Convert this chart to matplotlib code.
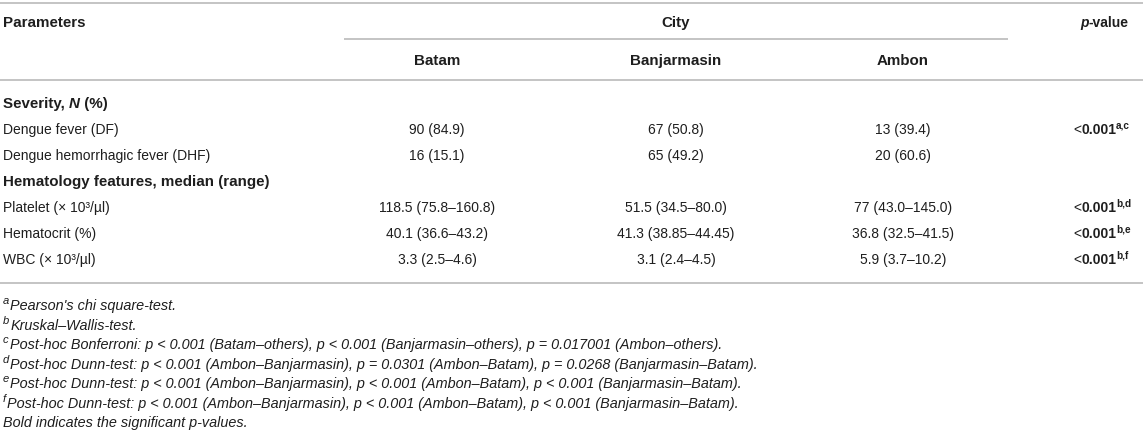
import matplotlib
matplotlib.use("Agg")
import matplotlib.pyplot as plt

plt.rcParams['font.family'] = ['Liberation Sans', 'DejaVu Sans']

# ---------------- data ----------------
cities = ["Batam", "Banjarmasin", "Ambon"]
group_header = "City"
param_header = "Parameters"

section1 = "Severity"
df_label = "Dengue fever (DF)"
dhf_label = "Dengue hemorrhagic fever (DHF)"
df_vals = ["90 (84.9)", "67 (50.8)", "13 (39.4)"]
dhf_vals = ["16 (15.1)", "65 (49.2)", "20 (60.6)"]

section2 = "Hematology features, median (range)"
platelet_label = "Platelet (× 10³/µl)"
hematocrit_label = "Hematocrit (%)"
wbc_label = "WBC (× 10³/µl)"
platelet_vals = ["118.5 (75.8–160.8)", "51.5 (34.5–80.0)", "77 (43.0–145.0)"]
hematocrit_vals = ["40.1 (36.6–43.2)", "41.3 (38.85–44.45)", "36.8 (32.5–41.5)"]
wbc_vals = ["3.3 (2.5–4.6)", "3.1 (2.4–4.5)", "5.9 (3.7–10.2)"]

p_df = ("0.001", "a,c")
p_platelet = ("0.001", "b,d")
p_hematocrit = ("0.001", "b,e")
p_wbc = ("0.001", "b,f")

footnotes = [
    ("a", "Pearson's chi square-test."),
    ("b", "Kruskal–Wallis-test."),
    ("c", "Post-hoc Bonferroni: p < 0.001 (Batam–others), p < 0.001 (Banjarmasin–others), p = 0.017001 (Ambon–others)."),
    ("d", "Post-hoc Dunn-test: p < 0.001 (Ambon–Banjarmasin), p = 0.0301 (Ambon–Batam), p = 0.0268 (Banjarmasin–Batam)."),
    ("e", "Post-hoc Dunn-test: p < 0.001 (Ambon–Banjarmasin), p < 0.001 (Ambon–Batam), p < 0.001 (Banjarmasin–Batam)."),
    ("f", "Post-hoc Dunn-test: p < 0.001 (Ambon–Banjarmasin), p < 0.001 (Ambon–Batam), p < 0.001 (Banjarmasin–Batam)."),
    ("", "Bold indicates the significant p-values."),
]

# ---------------- layout ----------------
W, H = 1143, 432
FS = 10.0
FB = 10.9
FN = 10.4
TXT = "#1e1e1e"
LINE = "#b4b4b4"

fig = plt.figure(figsize=(W / 100, H / 100), dpi=100)
ax = fig.add_axes([0, 0, 1, 1])
ax.set_xlim(0, W)
ax.set_ylim(H, 0)
ax.axis("off")
renderer = fig.canvas.get_renderer()


def runs(x, yc, parts, ha="left", size=FS, sup_scale=0.72, gap=0.0):
    """parts: list of (text, weight, style, sup)"""
    spx = size * 100 / 72
    base = yc + 0.36 * spx
    objs = []
    for txt, w, s, sup in parts:
        fs = size * sup_scale if sup else size
        dy = -0.40 * spx if sup else 0
        t = ax.text(x, base + dy, txt, fontsize=fs, fontweight=w, fontstyle=s,
                    va="baseline", ha="left", color=TXT)
        objs.append((t, sup))
    widths = [t.get_window_extent(renderer).width + (gap if sup else 0) for t, sup in objs]
    total = sum(widths)
    if ha == "center":
        cur = x - total / 2
    elif ha == "right":
        cur = x - total
    else:
        cur = x
    for (t, sup), wdt in zip(objs, widths):
        t.set_x(cur)
        cur += wdt


def hline(y, x0=0, x1=W):
    ax.plot([x0, x1], [y, y], color=LINE, lw=1.1, solid_capstyle="butt")


col_x = [437, 676, 903]
p_x = 1073
label_x = 3

# lines
hline(3)
hline(39, 344, 1008)
hline(80)
hline(283)

# headers
runs(label_x, 22, [(param_header, "bold", "normal", False)], size=FB)
runs(676, 22, [(group_header, "bold", "normal", False)], ha="center", size=FB)
runs(p_x + 7, 22, [("p", "bold", "italic", False), ("-value", "bold", "normal", False)], size=FS)
for cx, c in zip(col_x, cities):
    runs(cx, 60, [(c, "bold", "normal", False)], ha="center", size=FB)

# body
row_y = [103, 129, 155, 181, 207, 233, 259]
runs(label_x, row_y[0], [(section1 + ", ", "bold", "normal", False),
                         ("N", "bold", "italic", False),
                         (" (%)", "bold", "normal", False)], size=FB)
runs(label_x, row_y[3], [(section2, "bold", "normal", False)], size=FB)

body = [
    (row_y[1], df_label, df_vals, p_df),
    (row_y[2], dhf_label, dhf_vals, None),
    (row_y[4], platelet_label, platelet_vals, p_platelet),
    (row_y[5], hematocrit_label, hematocrit_vals, p_hematocrit),
    (row_y[6], wbc_label, wbc_vals, p_wbc),
]
for y, lab, vals, pv in body:
    runs(label_x, y, [(lab, "normal", "normal", False)])
    for cx, v in zip(col_x, vals):
        runs(cx, y, [(v, "normal", "normal", False)], ha="center")
    if pv is not None:
        runs(p_x, y, [("<", "normal", "normal", False),
                      (pv[0], "bold", "normal", False),
                      (pv[1], "bold", "normal", True)])

# footnotes
fy = 305
for letter, text in footnotes:
    parts = []
    if letter:
        parts.append((letter, "normal", "italic", True))
    parts.append((text, "normal", "italic", False))
    runs(label_x, fy, parts, size=FN, sup_scale=0.78, gap=1.0)
    fy += 19.5

fig.savefig("out.png", dpi=100)
